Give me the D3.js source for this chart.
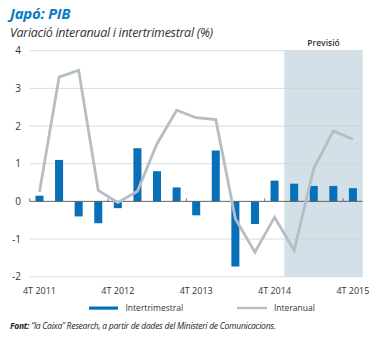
<!DOCTYPE html>
<html>
<head>
<meta charset="utf-8">
<script src="https://cdn.jsdelivr.net/npm/d3@7"></script>
<style>
  body { margin: 0; background: #fff; }
  text { font-family: "Open Sans", sans-serif; }
</style>
</head>
<body>
<script>
// quarters from 4T 2011 to 4T 2015
const quarters = ["4T2011", "1T2012", "2T2012", "3T2012", "4T2012", "1T2013", "2T2013", "3T2013",
  "4T2013", "1T2014", "2T2014", "3T2014", "4T2014", "1T2015", "2T2015", "3T2015", "4T2015"];
const intertrimestral = [0.15, 1.1, -0.4, -0.58, -0.18, 1.41, 0.8, 0.37, -0.37, 1.35, -1.73, -0.6, 0.55, 0.47, 0.41, 0.41, 0.35];
const interanual = [0.25, 3.3, 3.48, 0.29, -0.03, 0.27, 1.53, 2.42, 2.22, 2.17, -0.46, -1.35, -0.42, -1.3, 0.87, 1.87, 1.65];
const tickLabels = { "4T2011": "4T 2011", "4T2012": "4T 2012", "4T2013": "4T 2013", "4T2014": "4T 2014", "4T2015": "4T 2015" };
const yTicks = [-2, -1, 0, 1, 2, 3, 4];
const forecastFrom = "1T2015";

let width = 384;
let height = 338;
let svg = d3.select("body").append("svg")
  .attr("width", width)
  .attr("height", height);

let x = d3.scaleBand().domain(quarters).range([29.7, 362.7]).paddingInner(0.59).paddingOuter(0.295);
let y = d3.scaleLinear().domain([-2, 4]).range([276.7, 50.7]);
let cx = (q) => x(q) + x.bandwidth() / 2;
let step = x.step();

// title
svg.append("text")
  .attr("x", 10).attr("y", 19)
  .style("font-size", "15px").style("font-weight", "700").style("font-style", "italic")
  .style("fill", "#0a7cc4")
  .style("letter-spacing", "-0.3px")
  .text("Japó: PIB");
svg.append("text")
  .attr("x", 10).attr("y", 36.5)
  .style("font-size", "12.5px").style("font-style", "italic")
  .style("fill", "#333")
  .style("letter-spacing", "-0.3px")
  .text("Variació interanual i intertrimestral (%)");

// forecast shade
let fx = cx(forecastFrom) - step / 2;
svg.append("rect")
  .attr("x", fx).attr("y", y(4))
  .attr("width", 362.7 - fx).attr("height", y(-2) - y(4))
  .style("fill", "#d3e0e8");
svg.append("text")
  .attr("x", (fx + 362.7) / 2).attr("y", 46)
  .attr("text-anchor", "middle")
  .style("font-size", "8.5px").style("font-weight", "600")
  .style("fill", "#333")
  .text("Previsió");

// grid
let grid = svg.append("g");
grid.selectAll("line")
  .data(yTicks.filter((d) => d !== 0))
  .enter().append("line")
  .attr("x1", 29.7).attr("x2", 362.7)
  .attr("y1", (d) => y(d)).attr("y2", (d) => y(d))
  .attr("stroke", "#cfd3d6").attr("stroke-width", 0.8);

let yAxis = svg.append("g");
yAxis.selectAll("text")
  .data(yTicks)
  .enter().append("text")
  .attr("x", 21).attr("y", (d) => y(d) + 3.5)
  .attr("text-anchor", "end")
  .style("font-size", "10px")
  .style("fill", "#333")
  .text((d) => d);

// bars
svg.append("g").selectAll("rect")
  .data(quarters)
  .enter().append("rect")
  .attr("x", (d) => x(d))
  .attr("width", x.bandwidth())
  .attr("y", (d, i) => y(Math.max(0, intertrimestral[i])))
  .attr("height", (d, i) => Math.abs(y(intertrimestral[i]) - y(0)))
  .style("fill", "#0870b8");

// zero line with year ticks
svg.append("line")
  .attr("x1", 29.7).attr("x2", 362.7)
  .attr("y1", y(0)).attr("y2", y(0))
  .attr("stroke", "#555").attr("stroke-width", 0.9);
let yearMarks = quarters.filter((q) => q.startsWith("4T")).slice(1).map((q) => cx(q) - step / 2);
yearMarks.unshift(29.7);
svg.append("g").selectAll("line")
  .data(yearMarks)
  .enter().append("line")
  .attr("x1", (d) => d).attr("x2", (d) => d)
  .attr("y1", y(0)).attr("y2", y(0) - 3)
  .attr("stroke", "#555").attr("stroke-width", 0.8);

// line
let line = d3.line()
  .x((d, i) => cx(quarters[i]))
  .y((d) => y(d));
svg.append("path")
  .datum(interanual)
  .attr("d", line)
  .attr("fill", "none")
  .attr("stroke", "#b4bec3")
  .attr("stroke-width", 2.8)
  .attr("stroke-linejoin", "miter");

// x labels
svg.append("g").selectAll("text")
  .data(quarters.filter((q) => tickLabels[q]))
  .enter().append("text")
  .attr("x", (d) => cx(d)).attr("y", 294)
  .attr("text-anchor", "middle")
  .style("font-size", "9px")
  .style("fill", "#333")
  .text((d) => tickLabels[d]);

// legend
let legend = svg.append("g");
legend.append("rect")
  .attr("x", 89).attr("y", 306.5).attr("width", 29).attr("height", 3.2)
  .style("fill", "#0870b8");
legend.append("text")
  .attr("x", 125.5).attr("y", 311)
  .style("font-size", "8.5px").style("fill", "#333")
  .text("Intertrimestral");
legend.append("line")
  .attr("x1", 237).attr("x2", 267).attr("y1", 308).attr("y2", 308)
  .attr("stroke", "#b4bec3").attr("stroke-width", 2.4);
legend.append("text")
  .attr("x", 274).attr("y", 311)
  .style("font-size", "8.5px").style("fill", "#333")
  .text("Interanual");

// source
let src = svg.append("text")
  .attr("x", 10).attr("y", 329)
  .style("font-size", "8.5px").style("font-style", "italic")
  .style("fill", "#222")
  .style("letter-spacing", "-0.25px");
src.append("tspan").style("font-weight", "700").text("Font: ");
src.append("tspan").text("“la Caixa” Research, a partir de dades del Ministeri de Comunicacions.");
</script>
</body>
</html>
